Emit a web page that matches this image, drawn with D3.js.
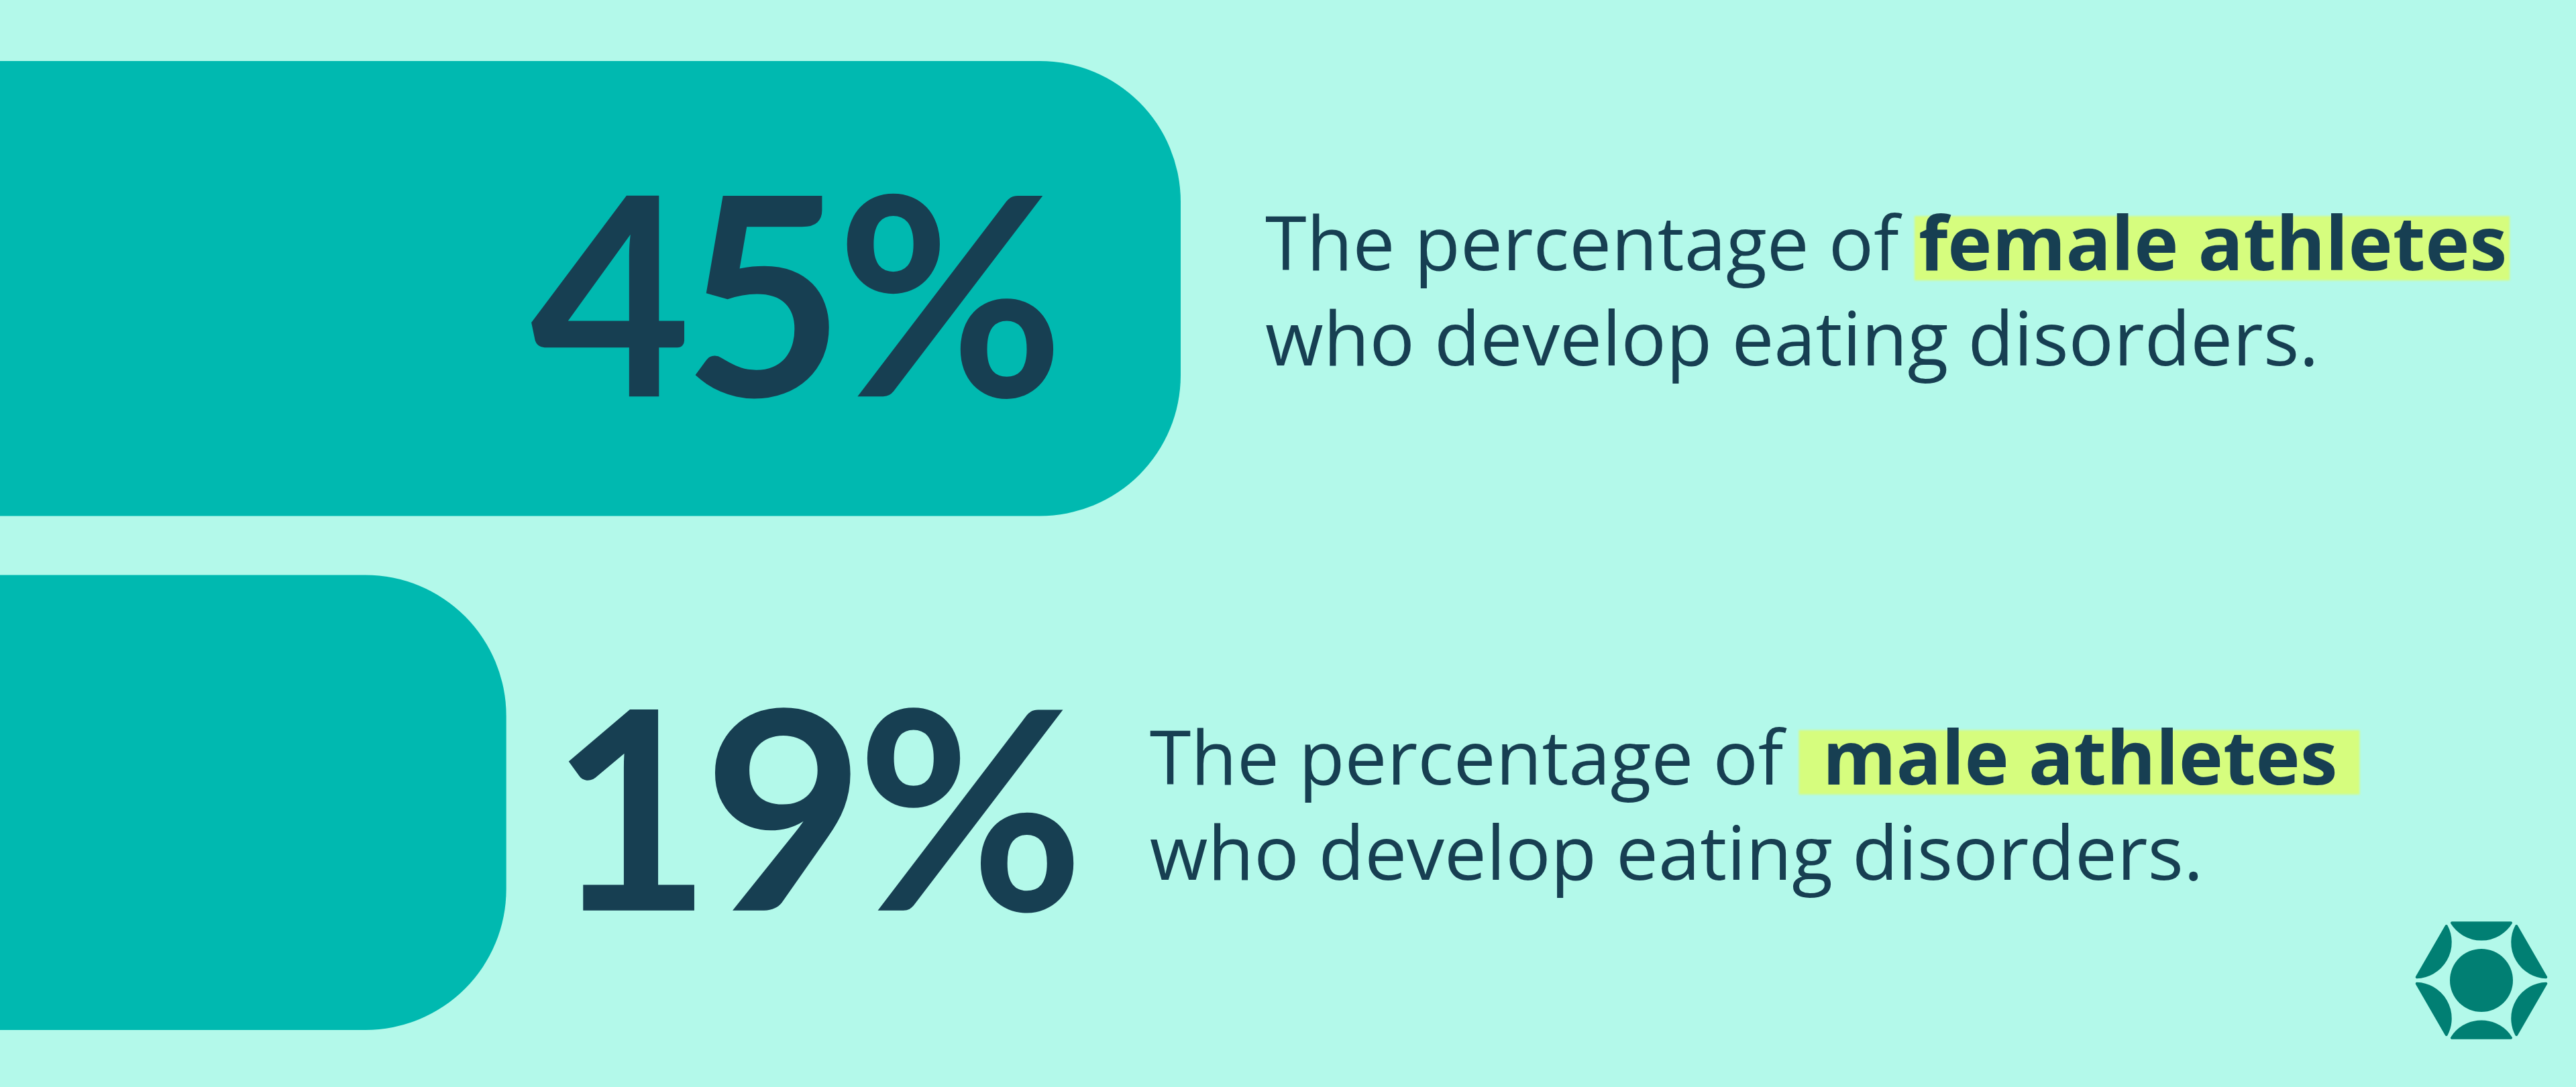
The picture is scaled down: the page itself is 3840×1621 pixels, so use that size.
<!DOCTYPE html>
<html>
<head>
<meta charset="utf-8">
<script src="https://cdn.jsdelivr.net/npm/d3@7"></script>
<style>
html, body { margin: 0; padding: 0; background: #b3f9ea; }
svg { display: block; }
</style>
</head>
<body>
<svg id="chart"></svg>
<script>
// values
var groups = ["female", "male"];
var values = [45, 19];
var valueLabels = ["45%", "19%"];
var leadText = ["The percentage of ", "The percentage of "];
var boldText = ["female athletes", " male athletes "];
var tailText = ["who develop eating disorders.", "who develop eating disorders."];

var W = 3840, H = 1621;
var bg = "#b3f9ea", barColor = "#00b9b0", ink = "#173f52", marker = "#d6fd7e", logoColor = "#017f73";
var textFont = "'Open Sans', sans-serif", numFont = "Lato, sans-serif";

var svg = d3.select("#chart")
  .attr("width", W)
  .attr("height", H);

svg.append("rect").attr("width", W).attr("height", H).attr("fill", bg);

var defs = svg.append("defs");
defs.append("filter").attr("id", "soft")
  .append("feGaussianBlur").attr("stdDeviation", 1.5);

var x = d3.scaleLinear().domain([0, 45]).range([20, 1760]);
var y = d3.scaleBand().domain(groups).range([91, 1536]).paddingInner(0.115);
var radius = 210;

var rows = groups.map(function(g, i) {
  return { key: g, value: values[i], label: valueLabels[i], lead: leadText[i], bold: boldText[i], tail: tailText[i] };
});

var row = svg.selectAll("g.row")
  .data(rows)
  .enter()
  .append("g")
  .attr("class", "row");

// bars (left corners hang off the page)
row.append("rect")
  .attr("x", -radius)
  .attr("y", function(d) { return y(d.key); })
  .attr("width", function(d) { return x(d.value) + radius; })
  .attr("height", y.bandwidth())
  .attr("rx", radius)
  .attr("ry", radius)
  .attr("fill", barColor);

row.each(function(d) {
  var g = d3.select(this);
  var cy = y(d.key) + y.bandwidth() / 2;
  var inside = x(d.value) > 1200;

  g.append("text")
    .attr("x", inside ? x(d.value) - 186 : x(d.value) + 66)
    .attr("y", cy + 161)
    .attr("text-anchor", inside ? "end" : "start")
    .attr("fill", ink)
    .style("font-family", numFont)
    .style("font-weight", 700)
    .style("font-size", "414px")
    .style("letter-spacing", "-12px")
    .text(d.label);

  var tx = inside ? x(d.value) + 126 : x(d.value) + 959;

  var line1 = g.append("text")
    .attr("x", tx)
    .attr("y", cy - 27)
    .attr("fill", ink)
    .style("font-family", textFont)
    .style("font-size", "112px")
    .style("white-space", "pre");

  var t1 = line1.append("tspan").style("font-weight", 400).text(d.lead);
  var t2 = line1.append("tspan").style("font-weight", 700).text(d.bold);

  var hx = tx + t1.node().getComputedTextLength();
  var hw = t2.node().getComputedTextLength();
  g.insert("rect", function() { return line1.node(); })
    .attr("x", hx - 6)
    .attr("y", cy - 108)
    .attr("width", hw + 10)
    .attr("height", 96)
    .attr("fill", marker)
    .attr("filter", "url(#soft)");

  g.append("text")
    .attr("x", tx)
    .attr("y", cy + 115)
    .attr("fill", ink)
    .style("font-family", textFont)
    .style("font-size", "112px")
    .text(d.tail);
});

// logo mark, bottom right
var lx = 3699, ly = 1462, hexR = 99, arcR = 52, trim = 5.5;
var logo = svg.append("g").attr("fill", logoColor).attr("stroke", logoColor)
  .attr("stroke-width", 4).attr("stroke-linejoin", "round");
logo.append("circle").attr("cx", lx).attr("cy", ly).attr("r", 47).attr("stroke", "none");
d3.range(6).forEach(function(i) {
  var a0 = (i * 60) * Math.PI / 180, a1 = ((i + 1) * 60) * Math.PI / 180;
  var p0 = [lx + hexR * Math.cos(a0), ly + hexR * Math.sin(a0)];
  var p1 = [lx + hexR * Math.cos(a1), ly + hexR * Math.sin(a1)];
  var dx = p1[0] - p0[0], dy = p1[1] - p0[1], len = Math.sqrt(dx * dx + dy * dy);
  var s = [p0[0] + dx / len * trim, p0[1] + dy / len * trim];
  var e = [p1[0] - dx / len * trim, p1[1] - dy / len * trim];
  logo.append("path")
    .attr("d", "M" + s + "A" + arcR + "," + arcR + " 0 0 0 " + e + "Z");
});
</script>
</body>
</html>
